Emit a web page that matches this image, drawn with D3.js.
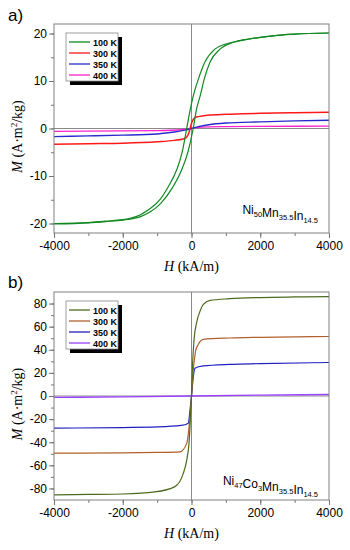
<!DOCTYPE html>
<html>
<head>
<meta charset="utf-8">
<title>M(H) loops</title>
<script src="https://d3js.org/d3.v7.min.js"></script>
<style>
  body { margin: 0; background: #fff; }
  .tick text { font-family: Arial, 'Liberation Sans', sans-serif; font-size: 12px; fill: #000; }
  .axis path { stroke: none; }
  .axis line { stroke: #777; }
</style>
</head>
<body>
<div id="chart"></div>
<script>
var width = 350;
var height = 550;

// ---- data ----
var hTicks = [-4000, -2000, 0, 2000, 4000];
var hMinor = [-4000, -3000, -2000, -1000, 0, 1000, 2000, 3000, 4000];
var aTicks = [-20, -10, 0, 10, 20];
var aMinor = [-20, -15, -10, -5, 0, 5, 10, 15, 20];
var bTicks = [-80, -60, -40, -20, 0, 20, 40, 60, 80];
var bMinor = [-80, -70, -60, -50, -40, -30, -20, -10, 0, 10, 20, 30, 40, 50, 60, 70, 80];
var temps = ['100 K', '300 K', '350 K', '400 K'];

// panel a, Ni50Mn35.5In14.5 : [H, M]
var a100Down = [[-4000,-20.0],[-3000,-19.8],[-2500,-19.5],[-2000,-19.2],[-1500,-18.2],[-1210,-16.9],[-900,-14.8],[-680,-12.3],[-430,-8.7],[-275,-5.1],[-140,0],[-50,3.5],[50,6.8],[200,10.4],[390,14.0],[680,16.7],[1000,17.8],[1400,18.5],[2000,19.2],[2500,19.6],[3000,19.85],[4000,20.1]];
var a100Up = [[-4000,-20.1],[-3000,-19.85],[-2500,-19.6],[-2000,-19.3],[-1500,-18.6],[-1210,-17.6],[-900,-15.8],[-540,-12.3],[-285,-8.7],[-110,-5.1],[50,0],[150,4.2],[250,6.8],[370,10.4],[540,14.0],[830,16.7],[1200,18.1],[1500,18.6],[2000,19.2],[2500,19.6],[3000,19.85],[4000,20.1]];
var a300 = [[-4000,-3.3],[-3000,-3.2],[-2000,-3.1],[-1000,-2.8],[-500,-2.5],[-250,-2.2],[-150,-1.9],[-80,-1.0],[-30,0.3],[20,1.5],[100,2.3],[200,2.5],[480,2.8],[1000,3.0],[1470,3.1],[2000,3.2],[3000,3.3],[4000,3.4]];
var a350 = [[-4000,-1.7],[-3000,-1.55],[-2000,-1.4],[-1000,-1.15],[-500,-0.75],[-200,-0.35],[0,0],[200,0.4],[500,0.8],[1000,1.15],[2000,1.4],[3000,1.6],[4000,1.75]];
var a400 = [[-4000,-0.6],[-2000,-0.5],[-1000,-0.45],[-300,-0.25],[0,0],[300,0.3],[1000,0.4],[2000,0.45],[4000,0.5]];

// panel b, Ni47Co3Mn35.5In14.5 : [H, M]
var b100 = [[-4000,-85.5],[-3000,-85.2],[-2000,-84.8],[-1070,-83],[-480,-78.4],[-240,-67],[-140,-55.7],[-73,-41],[-44,-27],[0,0],[35,30],[75,49],[150,63.8],[250,73.5],[345,79.3],[540,82.7],[1115,84.2],[2000,85.2],[3000,85.7],[4000,86]];
var b300 = [[-4000,-49.5],[-2000,-49.2],[-1000,-48.8],[-335,-48.3],[-140,-41],[-93,-33],[-50,-20],[0,0],[50,22],[95,34],[120,39],[200,44.8],[345,49],[1115,50.2],[2000,50.8],[4000,51.5]];
var b350 = [[-4000,-27.8],[-2000,-27.3],[-1000,-26.8],[-300,-25.5],[-93,-23.5],[-50,-14],[0,0],[50,16],[100,24],[340,26],[1115,27.4],[2000,28],[4000,29]];
var b400 = [[-4000,-1.2],[-2000,-0.8],[0,0],[2000,0.8],[4000,1.3]];

var svg = d3.select('#chart')
    .append('svg')
    .attr('width', width)
    .attr('height', height)
    .style('background-color', '#fff');

var line = d3.line().curve(d3.curveMonotoneX);
// plain hyphen minus, like the original
var fmt = function(d) { return d < 0 ? '-' + Math.abs(d) : '' + d; };

function drawPanel(p) {
    var x = d3.scaleLinear().domain([-4000, 4000]).range([p.left, p.right]);
    var y = d3.scaleLinear().domain(p.yDomain).range([p.bottom, p.top]);

    var g = svg.append('g');

    // zero lines
    g.append('line')
        .attr('x1', x(0)).attr('x2', x(0))
        .attr('y1', p.top).attr('y2', p.bottom)
        .style('stroke', '#8a8a8a').style('stroke-width', 1);
    g.append('line')
        .attr('x1', p.left).attr('x2', p.right)
        .attr('y1', y(0)).attr('y2', y(0))
        .style('stroke', '#8a8a8a').style('stroke-width', 1);

    // curves
    line.x(function(d) { return x(d[0]); }).y(function(d) { return y(d[1]); });
    p.curves.forEach(function(c) {
        g.append('path')
            .attr('d', line(c.data))
            .style('fill', 'none')
            .style('stroke', c.color)
            .style('stroke-width', c.w || 1.2);
    });

    // frame
    g.append('rect')
        .attr('x', p.left).attr('y', p.top)
        .attr('width', p.right - p.left).attr('height', p.bottom - p.top)
        .style('fill', 'none').style('stroke', '#808080').style('stroke-width', 1);

    // axes: minor ticks without labels, then major ticks
    g.append('g').attr('class', 'axis')
        .attr('transform', 'translate(0,' + p.bottom + ')')
        .call(d3.axisBottom(x).tickValues(hMinor).tickSize(3).tickFormat(function() { return ''; }));
    g.append('g').attr('class', 'axis')
        .attr('transform', 'translate(0,' + p.bottom + ')')
        .call(d3.axisBottom(x).tickValues(hTicks).tickSize(5).tickPadding(3).tickFormat(fmt));
    g.append('g').attr('class', 'axis')
        .attr('transform', 'translate(' + p.left + ',0)')
        .call(d3.axisLeft(y).tickValues(p.yMinor).tickSize(3).tickFormat(function() { return ''; }));
    g.append('g').attr('class', 'axis')
        .attr('transform', 'translate(' + p.left + ',0)')
        .call(d3.axisLeft(y).tickValues(p.yTicks).tickSize(5).tickPadding(2).tickFormat(fmt));

    // axis titles
    var xt = g.append('text')
        .attr('x', x(0)).attr('y', p.bottom + 38)
        .attr('text-anchor', 'middle')
        .style('font-family', "'Liberation Serif', 'Times New Roman', serif")
        .style('font-size', '14px');
    xt.append('tspan').style('font-style', 'italic').text('H');
    xt.append('tspan').text(' (kA/m)');

    var yt = g.append('text')
        .attr('transform', 'translate(22,' + ((p.top + p.bottom) / 2 + 8) + ') rotate(-90)')
        .attr('text-anchor', 'middle')
        .style('font-family', "'Liberation Serif', 'Times New Roman', serif")
        .style('font-size', '14px');
    yt.append('tspan').style('font-style', 'italic').text('M');
    yt.append('tspan').text(' (A\u00b7m');
    yt.append('tspan').attr('dy', -5).style('font-size', '9px').text('2');
    yt.append('tspan').attr('dy', 5).text('/kg)');

    // panel letter
    svg.append('text')
        .attr('x', 8).attr('y', p.letterY)
        .style('font-family', 'Arial, Liberation Sans, sans-serif')
        .style('font-size', '17px')
        .text(p.letter);

    // legend with shadow
    var lx = 66, ly = p.top + 9, lw = 52, lh = 48;
    g.append('rect').attr('x', lx + 4).attr('y', ly + 4).attr('width', lw).attr('height', lh).style('fill', '#000');
    g.append('rect').attr('x', lx).attr('y', ly).attr('width', lw).attr('height', lh)
        .style('fill', '#fff').style('stroke', '#888').style('stroke-width', 0.8);
    temps.forEach(function(t, i) {
        var yy = ly + 9 + i * 11;
        g.append('line')
            .attr('x1', lx + 3).attr('x2', lx + 24)
            .attr('y1', yy).attr('y2', yy)
            .style('stroke', p.legendColors[i]).style('stroke-width', 1.3);
        g.append('text')
            .attr('x', lx + 27).attr('y', yy + 3.5)
            .style('font-family', 'Arial, Liberation Sans, sans-serif')
            .style('font-size', '9px').style('font-weight', 'bold')
            .text(t);
    });

    // composition label with subscripts
    var ct = g.append('text')
        .attr('x', 318).attr('y', p.compY)
        .attr('text-anchor', 'end')
        .style('font-family', 'Arial, Liberation Sans, sans-serif')
        .style('font-size', '12px');
    p.comp.forEach(function(part) {
        ct.append('tspan').text(part[0]);
        ct.append('tspan').attr('dy', 3).style('font-size', '7.5px').text(part[1]);
        ct.append('tspan').attr('dy', -3).text('');
    });
}

drawPanel({
    left: 54, right: 329, top: 24, bottom: 233,
    yDomain: [-22, 22], yTicks: aTicks, yMinor: aMinor,
    letter: 'a)', letterY: 21, compY: 214,
    comp: [['Ni', '50'], ['Mn', '35.5'], ['In', '14.5']],
    legendColors: ['#118822', '#ff1a1a', '#2a2acc', '#ff22cc'],
    curves: [
        { data: a400, color: '#ff22cc', w: 1.4 },
        { data: a350, color: '#2a2acc', w: 1.4 },
        { data: a300, color: '#ff1a1a', w: 1.5 },
        { data: a100Down, color: '#118822' },
        { data: a100Up, color: '#118822' }
    ]
});

drawPanel({
    left: 54, right: 329, top: 292, bottom: 500,
    yDomain: [-90, 90], yTicks: bTicks, yMinor: bMinor,
    letter: 'b)', letterY: 288, compY: 485,
    comp: [['Ni', '47'], ['Co', '3'], ['Mn', '35.5'], ['In', '14.5']],
    legendColors: ['#4d6b1f', '#b0602a', '#2020c0', '#9a40ff'],
    curves: [
        { data: b400, color: '#9a40ff', w: 1.4 },
        { data: b350, color: '#2020c0' },
        { data: b300, color: '#b0602a' },
        { data: b100, color: '#4d6b1f' }
    ]
});
</script>
</body>
</html>
